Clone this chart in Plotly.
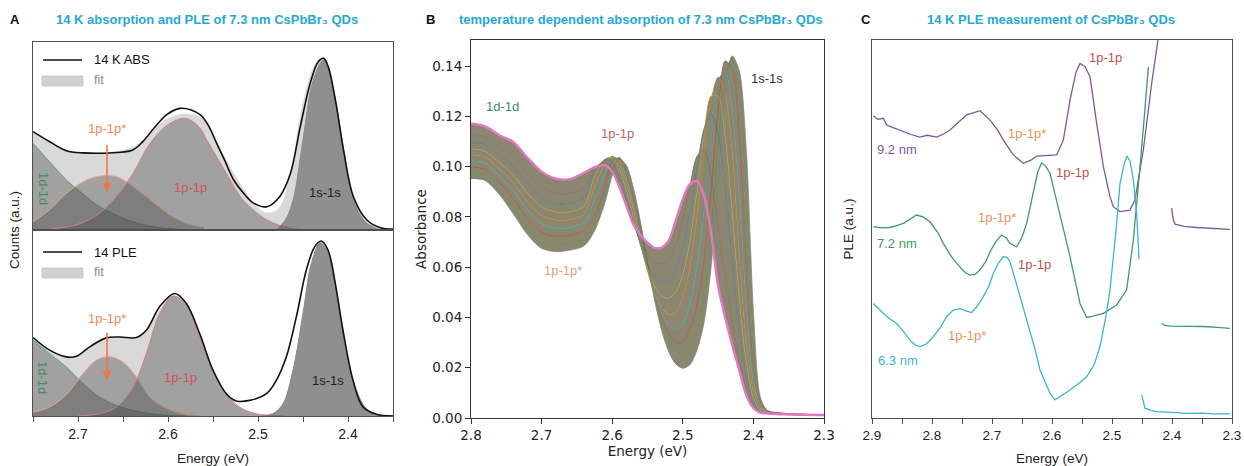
import plotly.graph_objects as go

W, H = 1244, 466

# ---------------- Panel A : 14 K absorption (top) ----------------
a_abs_energy = [2.750, 2.731, 2.713, 2.694, 2.676, 2.657, 2.639, 2.628, 2.615, 2.601, 2.587, 2.575,
                2.564, 2.555, 2.546, 2.537, 2.527, 2.516, 2.505, 2.490, 2.476, 2.464, 2.453, 2.442,
                2.433, 2.427, 2.422, 2.414, 2.405, 2.394, 2.379, 2.364, 2.350]
a_abs_counts = [0.523, 0.468, 0.422, 0.410, 0.408, 0.412, 0.426, 0.470, 0.545, 0.615, 0.647, 0.640,
                0.612, 0.555, 0.462, 0.370, 0.266, 0.195, 0.143, 0.124, 0.177, 0.301, 0.550, 0.780,
                0.895, 0.913, 0.869, 0.691, 0.426, 0.177, 0.053, 0.012, 0.005]
a_abs_fit = [0.520, 0.462, 0.425, 0.412, 0.410, 0.418, 0.440, 0.478, 0.535, 0.590, 0.615, 0.615,
             0.598, 0.550, 0.470, 0.385, 0.300, 0.215, 0.140, 0.090, 0.120, 0.300, 0.600, 0.820,
             0.905, 0.915, 0.875, 0.690, 0.420, 0.170, 0.050, 0.010, 0.002]

a_abs_1d_energy = [2.75, 2.731, 2.713, 2.694, 2.676, 2.657, 2.639, 2.62, 2.60, 2.58]
a_abs_1d = [0.461, 0.360, 0.266, 0.190, 0.124, 0.078, 0.044, 0.020, 0.008, 0.002]
a_abs_1pst_energy = [2.75, 2.731, 2.713, 2.694, 2.68, 2.668, 2.655, 2.639, 2.62, 2.60, 2.58, 2.56]
a_abs_1pst = [0.044, 0.110, 0.195, 0.257, 0.283, 0.289, 0.280, 0.230, 0.160, 0.085, 0.035, 0.012]
a_abs_1p_energy = [2.73, 2.70, 2.676, 2.657, 2.639, 2.62, 2.60, 2.581, 2.565, 2.557, 2.546, 2.535,
                   2.52, 2.513, 2.49, 2.464, 2.44]
a_abs_1p = [0.005, 0.030, 0.090, 0.180, 0.300, 0.460, 0.560, 0.594, 0.545, 0.480, 0.390, 0.300,
            0.180, 0.142, 0.053, 0.010, 0.000]
a_abs_1s_energy = [2.48, 2.47, 2.461, 2.45, 2.439, 2.427, 2.416, 2.405, 2.394, 2.385, 2.379, 2.364]
a_abs_1s = [0.000, 0.050, 0.160, 0.480, 0.790, 0.904, 0.740, 0.430, 0.160, 0.070, 0.035, 0.000]

# ---------------- Panel A : 14 K PLE (bottom) ----------------
a_ple_energy = [2.75, 2.7315, 2.713, 2.7019, 2.687, 2.6685, 2.6537, 2.6352, 2.6241, 2.6093, 2.5926,
                2.5796, 2.5648, 2.55, 2.5352, 2.5241, 2.5093, 2.4907, 2.4796, 2.4685, 2.4574, 2.4463,
                2.437, 2.4296, 2.4222, 2.4148, 2.4056, 2.3944, 2.3833, 2.3685, 2.35]
a_ple_counts = [0.422, 0.354, 0.318, 0.321, 0.372, 0.420, 0.425, 0.422, 0.461, 0.587, 0.659,
                0.605, 0.443, 0.246, 0.120, 0.081, 0.084, 0.120, 0.192, 0.318, 0.533, 0.785,
                0.910, 0.941, 0.892, 0.731, 0.461, 0.192, 0.048, 0.009, 0.000]
a_ple_fit_energy = [2.75, 2.7315, 2.713, 2.7019, 2.687, 2.6685, 2.6537, 2.6352, 2.6241, 2.6093, 2.5926,
                    2.5796, 2.5648, 2.55, 2.5352, 2.5241, 2.5093, 2.4907, 2.4833, 2.4722, 2.4611, 2.45,
                    2.4407, 2.4307, 2.4204, 2.4111, 2.4019, 2.3907, 2.3796, 2.3648, 2.35]
a_ple_fit = [0.420, 0.350, 0.320, 0.320, 0.370, 0.410, 0.420, 0.420, 0.460, 0.570, 0.645,
             0.600, 0.440, 0.250, 0.120, 0.055, 0.020, 0.008, 0.013, 0.066, 0.246, 0.551,
             0.820, 0.932, 0.856, 0.605, 0.336, 0.138, 0.040, 0.004, 0.000]
a_ple_1d_energy = [2.75, 2.7315, 2.713, 2.6944, 2.6759, 2.6574, 2.6389, 2.6204, 2.6019, 2.58]
a_ple_1d = [0.408, 0.335, 0.264, 0.174, 0.102, 0.057, 0.030, 0.013, 0.004, 0.000]
a_ple_1pst_energy = [2.75, 2.7315, 2.713, 2.6944, 2.6796, 2.6648, 2.65, 2.6352, 2.6204, 2.6019, 2.5833, 2.565]
a_ple_1pst = [0.020, 0.048, 0.115, 0.228, 0.300, 0.318, 0.290, 0.210, 0.100, 0.040, 0.009, 0.000]
a_ple_1p_energy = [2.70, 2.6759, 2.6574, 2.6389, 2.6241, 2.6093, 2.5944, 2.5796, 2.5648, 2.55, 2.5352,
                   2.5204, 2.5056, 2.4907, 2.47]
a_ple_1p = [0.000, 0.013, 0.048, 0.156, 0.336, 0.551, 0.645, 0.596, 0.425, 0.246, 0.120, 0.048,
            0.016, 0.004, 0.000]
a_ple_1s_energy = [2.495, 2.4833, 2.4722, 2.4611, 2.45, 2.4407, 2.4307, 2.4204, 2.4111, 2.4019, 2.3907,
                   2.3796, 2.3648, 2.35]
a_ple_1s = [0.000, 0.013, 0.066, 0.246, 0.551, 0.820, 0.932, 0.856, 0.605, 0.336, 0.138, 0.040,
            0.004, 0.000]

# ---------------- Panel B : temperature dependent absorption ----------------
b_energy = [2.80, 2.78, 2.76, 2.74, 2.72, 2.70, 2.68, 2.66, 2.64, 2.625, 2.61, 2.60, 2.59, 2.58, 2.57,
            2.56, 2.55, 2.54, 2.53, 2.52, 2.51, 2.50, 2.49, 2.48, 2.47, 2.46, 2.45, 2.44, 2.43, 2.42,
            2.41, 2.40, 2.39, 2.38, 2.36, 2.33, 2.30]
# coldest spectrum first ... warmest (pink) spectrum last
b_absorbance = [
    [0.0953, 0.0945, 0.0890, 0.0812, 0.0730, 0.0675, 0.0662, 0.0668, 0.0685,
     0.0745, 0.0860, 0.0965, 0.1030, 0.1005, 0.0915, 0.0780, 0.0620, 0.0470, 0.0350, 0.0265, 0.0215,
     0.0198, 0.0212, 0.0270, 0.0380, 0.0600, 0.0950, 0.1280, 0.1440, 0.1380, 0.1060, 0.0420, 0.0080,
     0.0030, 0.0020, 0.0015, 0.0012],
    [0.0975, 0.0967, 0.0914, 0.0841, 0.0761, 0.0706, 0.0691, 0.0696, 0.0714,
     0.0770, 0.0885, 0.0985, 0.1035, 0.0995, 0.0895, 0.0765, 0.0620, 0.0485, 0.0375, 0.0300, 0.0258,
     0.0248, 0.0275, 0.0350, 0.0490, 0.0740, 0.1080, 0.1360, 0.1435, 0.1280, 0.0850, 0.0300, 0.0070,
     0.0028, 0.0019, 0.0015, 0.0012],
    [0.0999, 0.0990, 0.0939, 0.0872, 0.0794, 0.0739, 0.0723, 0.0727, 0.0746,
     0.0800, 0.0925, 0.1020, 0.1035, 0.0975, 0.0875, 0.0750, 0.0615, 0.0495, 0.0400, 0.0335, 0.0300,
     0.0305, 0.0350, 0.0450, 0.0620, 0.0900, 0.1220, 0.1420, 0.1390, 0.1120, 0.0600, 0.0200, 0.0060,
     0.0026, 0.0018, 0.0014, 0.0012],
    [0.1023, 0.1014, 0.0965, 0.0904, 0.0828, 0.0773, 0.0755, 0.0758, 0.0778,
     0.0865, 0.0975, 0.1038, 0.1025, 0.0955, 0.0850, 0.0725, 0.0600, 0.0500, 0.0420, 0.0370, 0.0352,
     0.0375, 0.0450, 0.0600, 0.0820, 0.1100, 0.1340, 0.1380, 0.1230, 0.0880, 0.0450, 0.0150, 0.0050,
     0.0024, 0.0017, 0.0014, 0.0012],
    [0.1047, 0.1037, 0.0991, 0.0935, 0.0861, 0.0806, 0.0787, 0.0789, 0.0810,
     0.0920, 0.1010, 0.1042, 0.1010, 0.0935, 0.0830, 0.0700, 0.0585, 0.0495, 0.0440, 0.0412, 0.0420,
     0.0480, 0.0600, 0.0800, 0.1050, 0.1260, 0.1355, 0.1290, 0.1060, 0.0650, 0.0300, 0.0110, 0.0040,
     0.0022, 0.0016, 0.0013, 0.0012],
    [0.1071, 0.1061, 0.1017, 0.0966, 0.0895, 0.0840, 0.0819, 0.0820, 0.0842,
     0.0960, 0.1030, 0.1035, 0.0990, 0.0905, 0.0800, 0.0690, 0.0590, 0.0525, 0.0485, 0.0476, 0.0500,
     0.0570, 0.0700, 0.0900, 0.1120, 0.1280, 0.1280, 0.1120, 0.0820, 0.0480, 0.0220, 0.0080, 0.0030,
     0.0020, 0.0016, 0.0013, 0.0012],
    [0.1098, 0.1087, 0.1045, 0.1001, 0.0931, 0.0876, 0.0853, 0.0854, 0.0876,
     0.0980, 0.1028, 0.1015, 0.0960, 0.0880, 0.0785, 0.0690, 0.0610, 0.0563, 0.0542, 0.0548, 0.0590,
     0.0680, 0.0820, 0.0990, 0.1150, 0.1210, 0.1130, 0.0920, 0.0620, 0.0350, 0.0160, 0.0060, 0.0025,
     0.0019, 0.0015, 0.0013, 0.0012],
    [0.1128, 0.1117, 0.1078, 0.1041, 0.0974, 0.0919, 0.0894, 0.0894, 0.0917,
     0.0995, 0.1018, 0.0995, 0.0935, 0.0860, 0.0775, 0.0700, 0.0645, 0.0615, 0.0612, 0.0630, 0.0690,
     0.0790, 0.0920, 0.1040, 0.1065, 0.0960, 0.0760, 0.0560, 0.0380, 0.0230, 0.0110, 0.0045, 0.0022,
     0.0018, 0.0015, 0.0013, 0.0012],
    [0.1172, 0.1160, 0.1125, 0.1098, 0.1035, 0.0980, 0.0952, 0.0950, 0.0975,
     0.0998, 0.1005, 0.0980, 0.0920, 0.0845, 0.0770, 0.0728, 0.0698, 0.0676, 0.0678, 0.0705, 0.0785,
     0.0870, 0.0930, 0.0942, 0.0885, 0.0740, 0.0525, 0.0400, 0.0290, 0.0190, 0.0090, 0.0040, 0.0020,
     0.0018, 0.0015, 0.0013, 0.0012],
]
b_line_colors = ['#7f7f7f', '#2ca02c', '#d62728', '#17becf', '#ff7f0e', '#bcbd22', '#1f77b4',
                 '#8c564b', '#e377c2']

# ---------------- Panel C : 14 K PLE of three sizes ----------------
c_92_energy = [2.8978, 2.8900, 2.8811, 2.8756, 2.8650, 2.8478, 2.8350, 2.8200, 2.8080, 2.7922, 2.7800,
               2.7700, 2.7550, 2.7422, 2.7300, 2.7200, 2.7033, 2.6900, 2.6811, 2.6644, 2.6478, 2.6350,
               2.6256, 2.6100, 2.5922, 2.5811, 2.5700, 2.5600, 2.5533, 2.5450, 2.5367, 2.5256, 2.5144,
               2.5033, 2.4978, 2.4867, 2.4700, 2.4617, 2.4478, 2.4339, 2.4228, 2.4180]
c_92_ple = [0.799, 0.790, 0.793, 0.775, 0.768, 0.757, 0.750, 0.743, 0.748, 0.743, 0.752,
            0.762, 0.785, 0.802, 0.808, 0.813, 0.788, 0.760, 0.735, 0.696, 0.674, 0.682,
            0.693, 0.695, 0.696, 0.735, 0.841, 0.915, 0.938, 0.930, 0.903, 0.780, 0.665,
            0.585, 0.559, 0.546, 0.550, 0.577, 0.709, 0.885, 1.000, 1.060]
c_92_tail_energy = [2.4006, 2.3980, 2.3950, 2.3800, 2.3589, 2.3300, 2.3033]
c_92_tail_ple = [0.555, 0.525, 0.513, 0.507, 0.504, 0.501, 0.499]

c_72_energy = [2.8978, 2.8850, 2.8700, 2.8600, 2.8478, 2.8350, 2.8256, 2.8150, 2.8033, 2.7900, 2.7811,
               2.7700, 2.7589, 2.7450, 2.7367, 2.7280, 2.7200, 2.7100, 2.7033, 2.6930, 2.6839, 2.6760,
               2.6700, 2.6589, 2.6500, 2.6422, 2.6311, 2.6240, 2.6172, 2.6100, 2.6033, 2.5950, 2.5850,
               2.5700, 2.5533, 2.5422, 2.5300, 2.5144, 2.4922, 2.4756, 2.4644, 2.4589, 2.4533, 2.4460,
               2.4394]
c_72_ple = [0.506, 0.503, 0.504, 0.508, 0.515, 0.528, 0.537, 0.532, 0.519, 0.490, 0.462,
            0.432, 0.409, 0.385, 0.378, 0.380, 0.392, 0.415, 0.440, 0.468, 0.484, 0.476,
            0.462, 0.453, 0.478, 0.515, 0.594, 0.650, 0.675, 0.665, 0.647, 0.594, 0.530,
            0.427, 0.303, 0.266, 0.270, 0.277, 0.299, 0.339, 0.471, 0.559, 0.665, 0.800,
            0.929]
c_72_tail_energy = [2.4172, 2.4120, 2.4033, 2.3800, 2.3478, 2.3250, 2.3033]
c_72_tail_ple = [0.250, 0.245, 0.243, 0.243, 0.242, 0.240, 0.237]

c_63_energy = [2.8978, 2.8900, 2.8811, 2.8700, 2.8589, 2.8450, 2.8367, 2.8280, 2.8200, 2.8100, 2.7978,
               2.7860, 2.7756, 2.7650, 2.7533, 2.7450, 2.7339, 2.7250, 2.7144, 2.7050, 2.6978, 2.6890,
               2.6811, 2.6750, 2.6700, 2.6620, 2.6533, 2.6450, 2.6367, 2.6280, 2.6200, 2.6100, 2.6033,
               2.5950, 2.5850, 2.5700, 2.5550, 2.5422, 2.5300, 2.5200, 2.5100, 2.5033, 2.4922, 2.4867,
               2.4800, 2.4750, 2.4700, 2.4644, 2.4589, 2.4550]
c_63_ple = [0.303, 0.290, 0.277, 0.262, 0.250, 0.224, 0.206, 0.193, 0.189, 0.195, 0.215,
            0.240, 0.268, 0.285, 0.290, 0.284, 0.279, 0.295, 0.321, 0.350, 0.383, 0.410,
            0.427, 0.425, 0.414, 0.370, 0.321, 0.278, 0.233, 0.180, 0.127, 0.088, 0.065,
            0.048, 0.058, 0.074, 0.092, 0.109, 0.140, 0.189, 0.270, 0.339, 0.515, 0.620,
            0.670, 0.693, 0.680, 0.630, 0.540, 0.420]
c_63_tail_energy = [2.4506, 2.4480, 2.4450, 2.4350, 2.4256, 2.4000, 2.3756, 2.3500, 2.3300, 2.3033]
c_63_tail_ple = [0.061, 0.040, 0.026, 0.020, 0.017, 0.015, 0.012, 0.013, 0.011, 0.011]

# ---------------- helpers / styles ----------------
def fx(p):
    return p / W

def fy(p):
    return 1 - p / H

CYAN = '#27a9d6'
ARIAL = 'Liberation Sans, Arial, sans-serif'
DEJAVU = 'DejaVu Sans, sans-serif'
GREEN_L = '#3f8f66'
ORANGE_L = '#ee8a5c'
RED_L = '#cc5555'

fig = go.Figure()

# ---- Panel A top ----
fig.add_trace(go.Scatter(x=a_abs_energy, y=a_abs_fit, mode='lines', fill='tozeroy',
                         fillcolor='#d9d9d9', line=dict(color='#d0d0d0', width=0.5, shape='spline'),
                         xaxis='x', yaxis='y', showlegend=False))
for ex, ey, col, alpha in [(a_abs_1d_energy, a_abs_1d, '#5f9f80', 0.38),
                           (a_abs_1pst_energy, a_abs_1pst, '#f0a07c', 0.38),
                           (a_abs_1p_energy, a_abs_1p, '#d88080', 0.38),
                           (a_abs_1s_energy, a_abs_1s, '#8a8a8a', 0.50)]:
    fig.add_trace(go.Scatter(x=ex, y=ey, mode='lines', fill='tozeroy',
                             fillcolor='rgba(70,70,70,%s)' % alpha,
                             line=dict(color=col, width=1, shape='spline'),
                             xaxis='x', yaxis='y', showlegend=False))
fig.add_trace(go.Scatter(x=a_abs_energy, y=a_abs_counts, mode='lines',
                         line=dict(color='#111111', width=1.6, shape='spline'),
                         xaxis='x', yaxis='y', showlegend=False))

# ---- Panel A bottom ----
fig.add_trace(go.Scatter(x=a_ple_fit_energy, y=a_ple_fit, mode='lines', fill='tozeroy',
                         fillcolor='#d9d9d9', line=dict(color='#d0d0d0', width=0.5, shape='spline'),
                         xaxis='x2', yaxis='y2', showlegend=False))
for ex, ey, col, alpha in [(a_ple_1d_energy, a_ple_1d, '#5f9f80', 0.38),
                           (a_ple_1pst_energy, a_ple_1pst, '#f0a07c', 0.38),
                           (a_ple_1p_energy, a_ple_1p, '#d88080', 0.38),
                           (a_ple_1s_energy, a_ple_1s, '#8a8a8a', 0.50)]:
    fig.add_trace(go.Scatter(x=ex, y=ey, mode='lines', fill='tozeroy',
                             fillcolor='rgba(70,70,70,%s)' % alpha,
                             line=dict(color=col, width=1, shape='spline'),
                             xaxis='x2', yaxis='y2', showlegend=False))
fig.add_trace(go.Scatter(x=a_ple_energy, y=a_ple_counts, mode='lines',
                         line=dict(color='#111111', width=1.6, shape='spline'),
                         xaxis='x2', yaxis='y2', showlegend=False))

# ---- Panel B : band fills between successive spectra, then the lines ----
BAND = 'rgb(139,134,112)'
for i, spec in enumerate(b_absorbance):
    fig.add_trace(go.Scatter(x=b_energy, y=spec, mode='lines',
                             fill=None if i == 0 else 'tonexty', fillcolor=BAND,
                             line=dict(width=0.6, color=BAND, shape='spline', smoothing=0.8),
                             xaxis='x3', yaxis='y3', showlegend=False))
for i, spec in enumerate(b_absorbance):
    last = i == len(b_absorbance) - 1
    fig.add_trace(go.Scatter(x=b_energy, y=spec, mode='lines',
                             line=dict(width=2.4 if last else 0.9, color=b_line_colors[i],
                                       shape='spline', smoothing=0.8),
                             opacity=1 if last else 0.5,
                             xaxis='x3', yaxis='y3', showlegend=False))

# ---- Panel C ----
for ex, ey, col in [(c_92_energy, c_92_ple, '#7a5a9c'), (c_92_tail_energy, c_92_tail_ple, '#7a5a9c'),
                    (c_72_energy, c_72_ple, '#3f9a6a'), (c_72_tail_energy, c_72_tail_ple, '#3f9a6a'),
                    (c_63_energy, c_63_ple, '#41b3cf'), (c_63_tail_energy, c_63_tail_ple, '#41b3cf')]:
    fig.add_trace(go.Scatter(x=ex, y=ey, mode='lines', line=dict(color=col, width=1.3),
                             xaxis='x4', yaxis='y4', showlegend=False))

# ---------------- axes ----------------
frame = dict(showline=True, mirror=True, linecolor='#505050', linewidth=1,
             showgrid=False, zeroline=False, automargin=False)
A_dom = [fx(33), fx(393)]
B_dom = [fx(471), fx(824)]
C_dom = [fx(872), fx(1232)]
minor_ticks = dict(ticks='outside', dtick=0.05, ticklen=5, tickcolor='#505050', showgrid=False)
tfont_arial = dict(family=ARIAL, size=13.5, color='#222')
tfont_dejavu = dict(family=DEJAVU, size=13.5, color='#222')

fig.update_layout(
    width=W, height=H, margin=dict(l=0, r=0, t=0, b=0),
    paper_bgcolor='white', plot_bgcolor='white', showlegend=False,
    xaxis=dict(frame, domain=A_dom, range=[2.75, 2.35], anchor='y', ticks='', showticklabels=False),
    yaxis=dict(frame, domain=[fy(230), fy(42)], range=[0, 1], anchor='x', ticks='', showticklabels=False),
    xaxis2=dict(frame, domain=A_dom, range=[2.75, 2.35], anchor='y2', tick0=2.4, dtick=0.1,
                tickformat='.1f', ticks='outside', ticklen=5, minor=minor_ticks,
                tickcolor='#505050', tickfont=dict(family=ARIAL, size=14, color='#222'),
                title=dict(text='Energy (eV)', font=tfont_arial, standoff=12)),
    yaxis2=dict(frame, domain=[fy(416), fy(230)], range=[0, 1], anchor='x2', ticks='',
                showticklabels=False),
    xaxis3=dict(frame, domain=B_dom, range=[2.8, 2.3], anchor='y3', tick0=2.3, dtick=0.1,
                tickformat='.1f', ticks='outside', ticklen=5,
                tickcolor='#333', linecolor='#333', tickfont=tfont_dejavu,
                title=dict(text='Energy (eV)', font=tfont_dejavu, standoff=4)),
    yaxis3=dict(frame, domain=[fy(418), fy(40)], range=[0, 0.15036], anchor='x3', tick0=0, dtick=0.02,
                tickformat='.2f', ticks='outside', ticklen=5,
                tickcolor='#333', linecolor='#333', tickfont=tfont_dejavu,
                title=dict(text='Absorbance', font=tfont_dejavu, standoff=2)),
    xaxis4=dict(frame, domain=C_dom, range=[2.9, 2.3], anchor='y4', tick0=2.3, dtick=0.1,
                tickformat='.1f', ticks='outside', ticklen=5, minor=minor_ticks,
                tickcolor='#505050', tickfont=tfont_arial,
                title=dict(text='Energy (eV)', font=tfont_arial, standoff=13)),
    yaxis4=dict(frame, domain=[fy(418), fy(40)], range=[0, 1], anchor='x4', ticks='',
                showticklabels=False,
                title=dict(text='PLE (a.u.)', font=tfont_arial, standoff=14)),
)

# ---------------- text, legends, arrows ----------------
ann = []

def text(x, y, s, color='#222', size=13, family=ARIAL, angle=0, xanchor='center', bold=False):
    if bold:
        s = '<b>' + s + '</b>'
    ann.append(dict(x=fx(x), y=fy(y), xref='paper', yref='paper', text=s, showarrow=False,
                    font=dict(family=family, size=size, color=color), textangle=angle,
                    xanchor=xanchor, yanchor='middle'))

# panel titles
text(15, 20, 'A', '#111', 13, bold=True)
text(207, 20, '14 K absorption and PLE of 7.3 nm CsPbBr₃ QDs', CYAN, 13, bold=True)
text(430, 20, 'B', '#111', 13, bold=True)
text(641, 20, 'temperature dependent absorption of 7.3 nm CsPbBr₃ QDs', CYAN, 13, bold=True)
text(866, 20, 'C', '#111', 13, bold=True)
text(1051, 20, '14 K PLE measurement of CsPbBr₃ QDs', CYAN, 13, bold=True)

# shared y title of panel A (spans both sub-panels)
text(14, 230, 'Counts (a.u.)', '#222', 13.5, angle=-90)

# panel A legends and labels
text(92, 60, '14 K ABS', '#111', 13, xanchor='left')
text(92, 80, 'fit', '#8a8a8a', 12.5, xanchor='left')
text(92, 252, '14 PLE', '#111', 13, xanchor='left')
text(92, 272, 'fit', '#8a8a8a', 12.5, xanchor='left')
text(107, 128, '1p-1p*', ORANGE_L, 13)
text(190, 188, '1p-1p', RED_L, 13)
text(325, 192, '1s-1s', '#222', 13)
text(43, 188, '1d-1d', GREEN_L, 13, angle=90)
text(107, 318, '1p-1p*', ORANGE_L, 13)
text(180, 377, '1p-1p', RED_L, 13)
text(328, 380, '1s-1s', '#222', 13)
text(43, 377, '1d-1d', GREEN_L, 13, angle=90)

# panel B labels
text(502, 107, '1d-1d', '#3d8a66', 13)
text(617, 133, '1p-1p', '#c46464', 13)
text(767, 79, '1s-1s', '#333', 13)
text(563, 270, '1p-1p*', '#e2a07e', 13)

# panel C labels
text(1105, 57, '1p-1p', '#c44f4f', 13)
text(1027, 133, '1p-1p*', '#e8955a', 13)
text(897, 149, '9.2 nm', '#7a5a9c', 13)
text(1072, 172, '1p-1p', '#c44f4f', 13)
text(997, 217, '1p-1p*', '#e8955a', 13)
text(897, 243, '7.2 nm', '#3f9a6a', 13)
text(1034, 264, '1p-1p', '#c44f4f', 13)
text(967, 335, '1p-1p*', '#e8955a', 13)
text(898, 360, '6.3 nm', '#41b3cf', 13)

fig.update_layout(annotations=ann)

# legend glyphs (line + grey box) and arrows in panel A
shapes = []
for ly, by in ((60, 81), (252, 273)):
    shapes.append(dict(type='line', xref='paper', yref='paper', x0=fx(43), x1=fx(82),
                       y0=fy(ly), y1=fy(ly), line=dict(color='#111', width=1.5)))
    shapes.append(dict(type='rect', xref='paper', yref='paper', x0=fx(42), x1=fx(83),
                       y0=fy(by + 5), y1=fy(by - 5), fillcolor='#d0d0d0',
                       line=dict(color='#c4c4c4', width=0.8)))
ARROW = '#ee7748'
for tail_y, head_y in ((145, 192), (333, 380)):
    shapes.append(dict(type='line', xref='paper', yref='paper', x0=fx(107), x1=fx(107),
                       y0=fy(tail_y), y1=fy(head_y - 6), line=dict(color=ARROW, width=1.6)))
    shapes.append(dict(type='path', xref='paper', yref='paper',
                       path='M %f %f L %f %f L %f %f Z' % (fx(103), fy(head_y - 9), fx(111), fy(head_y - 9),
                                                           fx(107), fy(head_y)),
                       fillcolor=ARROW, line=dict(color=ARROW, width=0.5)))
fig.update_layout(shapes=shapes)

fig.write_html('out.html', config={'displayModeBar': False},
               post_script="document.body.style.margin='0';document.body.style.overflow='hidden';")
